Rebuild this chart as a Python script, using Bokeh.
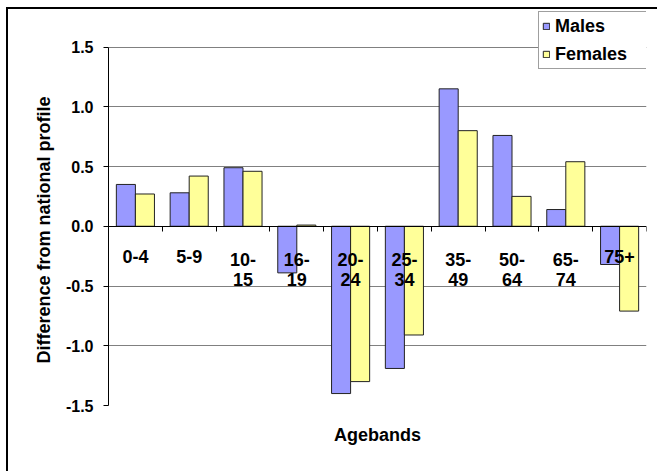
from bokeh.plotting import figure
from bokeh.models import (ColumnDataSource, FixedTicker, Range1d, Legend, LegendItem,
                          Title, LinearAxis, Grid, CustomJSTickFormatter)
from bokeh.transform import dodge
from bokeh.core.properties import value
from bokeh.embed import file_html
from bokeh.resources import INLINE

categories = ["0-4", "5-9", "10-\n15", "16-\n19", "20-\n24", "25-\n34",
              "35-\n49", "50-\n64", "65-\n74", "75+"]
males = [0.35, 0.28, 0.49, -0.39, -1.40, -1.19, 1.15, 0.76, 0.14, -0.32]
females = [0.27, 0.42, 0.46, 0.01, -1.30, -0.91, 0.80, 0.25, 0.54, -0.71]
y_ticks = [-1.5, -1.0, -0.5, 0.0, 0.5, 1.0, 1.5]

FONT = "Liberation Sans"
xpos = [i + 0.5 for i in range(len(categories))]
src = ColumnDataSource(dict(x=xpos, cat=categories, m=males, f=females,
                            zero=[0.0] * len(categories)))

p = figure(width=651, height=464, output_backend="svg", toolbar_location=None,
           x_range=Range1d(0, len(categories)), y_range=Range1d(-1.5, 1.814),
           min_border_left=100, min_border_right=13, min_border_top=0,
           min_border_bottom=68, x_axis_location=None, y_axis_location=None)
p.xgrid.visible = False
p.ygrid.visible = False
p.outline_line_color = None
p.background_fill_color = "white"
p.border_fill_color = "white"
p.styles = {"border-left": "2px solid black", "border-top": "2px solid black",
            "margin-left": "6px", "margin-top": "7px"}

# y axis
yax = LinearAxis(ticker=FixedTicker(ticks=y_ticks), bounds=(-1.5, 1.5))
yax.formatter = CustomJSTickFormatter(code="return tick.toFixed(1);")
yax.major_label_text_font = FONT
yax.major_label_text_font_style = "bold"
yax.major_label_text_font_size = "16px"
yax.major_label_text_color = "black"
yax.major_label_standoff = 10
yax.major_tick_out = 5
yax.major_tick_in = 0
yax.minor_tick_out = 0
yax.minor_tick_in = 0
yax.axis_line_color = "black"
yax.major_tick_line_color = "black"
p.add_layout(yax, "left")

ytitle = Title(text="Difference from national profile", align="left", offset=42,
               text_font=FONT, text_font_style="bold", text_font_size="18px",
               text_color="black", standoff=17)
p.add_layout(ytitle, "left")

# grid
g = Grid(dimension=1, ticker=FixedTicker(ticks=[t for t in y_ticks if t != 0]))
g.grid_line_color = "#808080"
g.grid_line_width = 1
p.add_layout(g)

# bars
bw = 0.354
r_m = p.vbar(x=dodge("x", -bw / 2, range=p.x_range), top="m", bottom=0, width=bw,
             source=src, fill_color="#9999FF", line_color="#222222", line_width=1)
r_f = p.vbar(x=dodge("x", bw / 2, range=p.x_range), top="f", bottom=0, width=bw,
             source=src, fill_color="#FFFF99", line_color="#222222", line_width=1)

# x axis at zero
xax = LinearAxis(ticker=FixedTicker(ticks=list(range(len(categories) + 1))),
                 fixed_location=0)
xax.major_label_text_font_size = "0px"
xax.major_label_standoff = 0
xax.major_tick_out = 5
xax.major_tick_in = 0
xax.minor_tick_out = 0
xax.minor_tick_in = 0
xax.axis_line_color = "black"
xax.major_tick_line_color = "black"
p.add_layout(xax, "below")

# x title carried by a bare axis
xlab = LinearAxis(ticker=FixedTicker(ticks=[]), axis_label="Agebands")
xlab.axis_line_color = None
xlab.major_tick_out = 0
xlab.major_tick_in = 0
xlab.minor_tick_out = 0
xlab.minor_tick_in = 0
xlab.major_label_text_font_size = "0px"
xlab.major_label_standoff = 0
xlab.axis_label_text_font = FONT
xlab.axis_label_text_font_style = "bold"
xlab.axis_label_text_font_size = "18px"
xlab.axis_label_text_color = "black"
xlab.axis_label_standoff = 19
p.add_layout(xlab, "below")

# category labels
p.text(x="x", y="zero", text="cat", source=src, text_font=value(FONT),
       text_font_style="bold", text_font_size="18px", text_align="center",
       text_baseline="top", y_offset=24, text_line_height=1.0, text_color="black")

legend = Legend(items=[LegendItem(label="Males", renderers=[r_m]),
                       LegendItem(label="Females", renderers=[r_f])],
                location=(430, 336))
legend.label_text_font = FONT
legend.label_text_font_style = "bold"
legend.label_text_font_size = "18px"
legend.label_text_color = "black"
legend.glyph_width = 8
legend.glyph_height = 8
legend.label_standoff = 5
legend.padding = 3
legend.spacing = 6
legend.margin = 0
legend.border_line_color = "#404040"
legend.border_line_width = 1
legend.background_fill_color = "white"
legend.background_fill_alpha = 1
legend.label_height = 22
legend.label_width = 90
p.add_layout(legend, "center")

open("out.html", "w").write(file_html(p, INLINE))
